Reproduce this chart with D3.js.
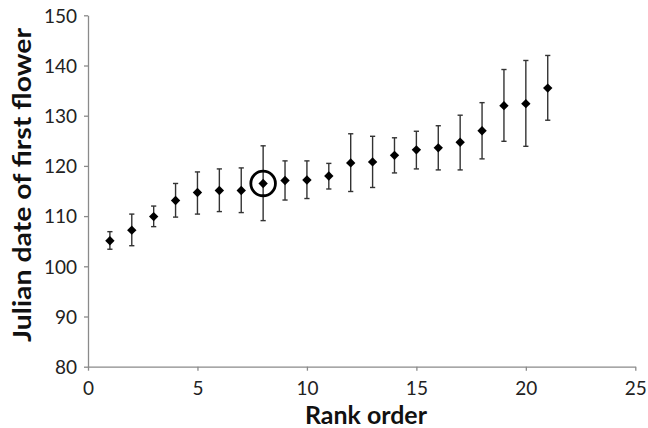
<!DOCTYPE html>
<html>
<head>
<meta charset="utf-8">
<script src="https://cdn.jsdelivr.net/npm/d3@7"></script>
<style>
  body { margin: 0; background: #fff; }
  svg { display: block; }
  .tick text { font-family: Lato, "Open Sans", sans-serif; font-size: 19px; fill: #222; }
  .axis-title { font-family: Lato, "Open Sans", sans-serif; font-weight: bold; font-size: 25px; fill: #111; }
</style>
</head>
<body>
<div id="chart"></div>
<script>
// Rank order vs. mean Julian date of first flower (with error bars)
var rank  = [1, 2, 3, 4, 5, 6, 7, 8, 9, 10, 11, 12, 13, 14, 15, 16, 17, 18, 19, 20, 21];
var mean  = [105.1, 107.2, 109.9, 113.1, 114.7, 115.1, 115.1, 116.5, 117.1, 117.2, 118.0,
             120.6, 120.8, 122.1, 123.2, 123.6, 124.7, 127.0, 132.0, 132.4, 135.5];
var upper = [106.9, 110.4, 112.0, 116.5, 118.8, 119.4, 119.6, 124.0, 121.0, 121.0, 120.5,
             126.4, 125.9, 125.6, 126.9, 128.0, 130.1, 132.6, 139.2, 141.0, 142.0];
var lower = [103.4, 104.1, 107.9, 109.8, 110.4, 110.9, 110.7, 109.1, 113.2, 113.5, 115.4,
             114.9, 115.7, 118.6, 119.4, 119.2, 119.2, 121.4, 124.9, 123.9, 129.1];
var xTicks = [0, 5, 10, 15, 20, 25];
var yTicks = [80, 90, 100, 110, 120, 130, 140, 150];
var highlighted = 8;

var width = 648, height = 428,
    margin = {top: 15.3, right: 12.7, bottom: 61.3, left: 88};

var data = rank.map(function(r, i) {
    return {rank: r, mean: mean[i], lo: lower[i], hi: upper[i]};
});

var svg = d3.select('#chart').append('svg')
    .attr('width', width)
    .attr('height', height);

var x = d3.scaleLinear().domain([0, 25]).range([margin.left, width - margin.right]);
var y = d3.scaleLinear().domain([80, 150]).range([height - margin.bottom, margin.top]);

// Axes
var xAxis = svg.append('g')
    .attr('transform', 'translate(0,' + (height - margin.bottom) + ')')
    .call(d3.axisBottom(x).tickValues(xTicks).tickSizeInner(4).tickSizeOuter(0).tickPadding(11));

var yAxis = svg.append('g')
    .attr('transform', 'translate(' + margin.left + ',0)')
    .call(d3.axisLeft(y).tickValues(yTicks).tickSizeInner(4).tickSizeOuter(0).tickPadding(7));

[xAxis, yAxis].forEach(function(a) {
    a.select('.domain').attr('stroke', '#8a8a8a').attr('stroke-width', 1.3);
    a.selectAll('.tick line').attr('stroke', '#8a8a8a').attr('stroke-width', 1.3);
});
yAxis.selectAll('.tick text').attr('dy', '0.36em');

// Axis titles
svg.append('text')
    .attr('class', 'axis-title')
    .attr('x', 366)
    .attr('y', 424)
    .attr('text-anchor', 'middle')
    .attr('textLength', 122)
    .attr('lengthAdjust', 'spacingAndGlyphs')
    .text('Rank order');

svg.append('text')
    .attr('class', 'axis-title')
    .attr('transform', 'translate(31,185) rotate(-90)')
    .attr('text-anchor', 'middle')
    .attr('textLength', 314)
    .attr('lengthAdjust', 'spacingAndGlyphs')
    .text('Julian date of first flower');

// Error bars
var bars = svg.append('g').attr('class', 'errorbars')
    .attr('stroke', '#333')
    .attr('stroke-width', 1.4);

bars.selectAll('.stem')
    .data(data)
  .enter().append('line')
    .attr('x1', function(d) { return x(d.rank); })
    .attr('x2', function(d) { return x(d.rank); })
    .attr('y1', function(d) { return y(d.lo); })
    .attr('y2', function(d) { return y(d.hi); });

['lo', 'hi'].forEach(function(k) {
    bars.selectAll('.cap-' + k)
        .data(data)
      .enter().append('line')
        .attr('x1', function(d) { return x(d.rank) - 2.6; })
        .attr('x2', function(d) { return x(d.rank) + 2.6; })
        .attr('y1', function(d) { return y(d[k]); })
        .attr('y2', function(d) { return y(d[k]); });
});

// Diamond markers
var diamond = d3.symbol().type(d3.symbolSquare).size(44);

svg.append('g').selectAll('path')
    .data(data)
  .enter().append('path')
    .attr('d', diamond)
    .attr('fill', '#000')
    .attr('transform', function(d) {
        return 'translate(' + x(d.rank) + ',' + y(d.mean) + ') rotate(45)';
    });

// Circle around the highlighted rank
var h = data[highlighted - 1];
svg.append('circle')
    .attr('cx', x(h.rank))
    .attr('cy', y(h.mean))
    .attr('r', 12.3)
    .attr('fill', 'none')
    .attr('stroke', '#000')
    .attr('stroke-width', 2.8);
</script>
</body>
</html>
